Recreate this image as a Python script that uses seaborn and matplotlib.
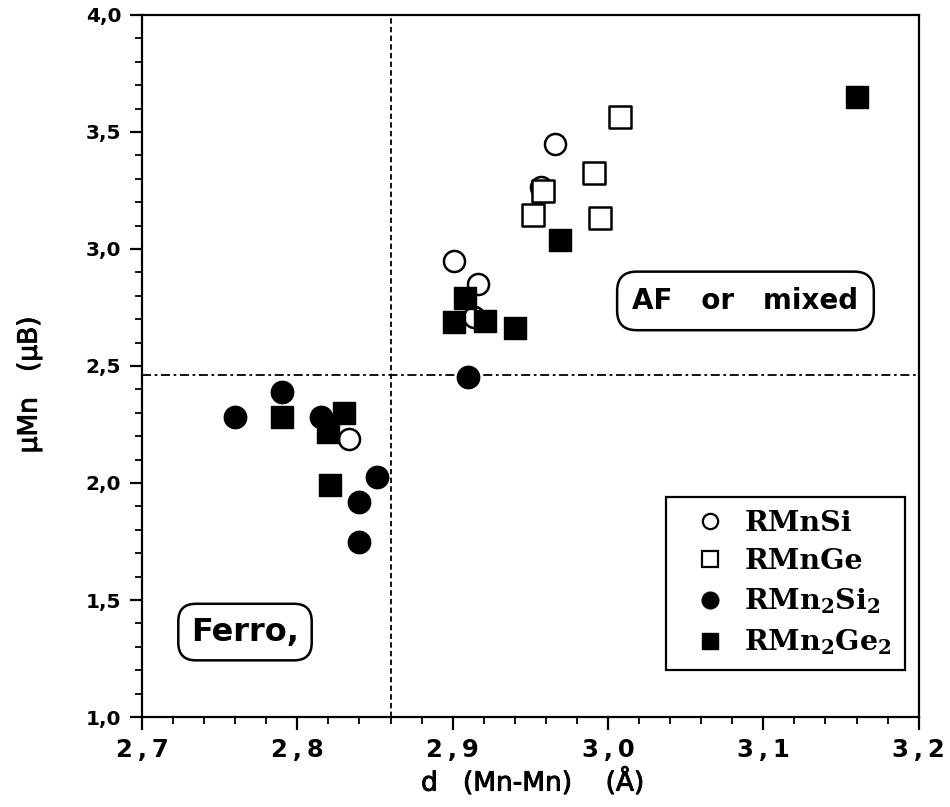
import matplotlib
matplotlib.use("Agg")
import matplotlib.pyplot as plt
import matplotlib.patheffects as pe
import seaborn as sns
import pandas as pd
from matplotlib.ticker import MultipleLocator, FixedLocator

# Mn moment versus Mn-Mn distance
series_names = ["RMnSi", "RMnGe", "RMn2Si2", "RMn2Ge2"]

rmnsi_d = [2.901, 2.916, 2.966, 2.957, 2.833, 2.914]
rmnsi_mu = [2.95, 2.85, 3.45, 3.265, 2.19, 2.71]

rmnge_d = [3.008, 2.991, 2.958, 2.952, 2.995]
rmnge_mu = [3.564, 3.325, 3.248, 3.145, 3.133]

rmn2si2_d = [2.760, 2.790, 2.815, 2.851, 2.840, 2.840, 2.910]
rmn2si2_mu = [2.282, 2.389, 2.282, 2.026, 1.919, 1.748, 2.453]

rmn2ge2_d = [2.790, 2.830, 2.820, 2.821, 3.160, 2.969, 2.908, 2.901, 2.921, 2.940]
rmn2ge2_mu = [2.282, 2.299, 2.218, 1.991, 3.65, 3.038, 2.79, 2.688, 2.692, 2.662]

x_ticks = [2.7, 2.8, 2.9, 3.0, 3.1, 3.2]
x_ticklabels = ["2\u2009,\u20097", "2\u2009,\u20098", "2\u2009,\u20099",
                "3\u2009,\u20090", "3\u2009,\u20091", "3\u2009,\u20092"]
y_ticks = [1.0, 1.5, 2.0, 2.5, 3.0, 3.5, 4.0]
y_ticklabels = ["1,0", "1,5", "2,0", "2,5", "3,0", "3,5", "4,0"]

d_boundary = 2.86
mu_boundary = 2.46

legend_labels = ["RMnSi", "RMnGe", r"RMn$_{2}$Si$_{2}$", r"RMn$_{2}$Ge$_{2}$"]

sns.set_style("white")
plt.rcParams["font.family"] = ["DejaVu Sans"]
plt.rcParams["text.color"] = "black"
plt.rcParams["axes.labelcolor"] = "black"
plt.rcParams["xtick.color"] = "black"
plt.rcParams["ytick.color"] = "black"
plt.rcParams["mathtext.fontset"] = "custom"
plt.rcParams["mathtext.rm"] = "DejaVu Serif:bold"
plt.rcParams["mathtext.it"] = "DejaVu Serif:bold"
plt.rcParams["mathtext.bf"] = "DejaVu Serif:bold"

frames = []
for name, d, mu in [(series_names[0], rmnsi_d, rmnsi_mu),
                    (series_names[1], rmnge_d, rmnge_mu),
                    (series_names[2], rmn2si2_d, rmn2si2_mu),
                    (series_names[3], rmn2ge2_d, rmn2ge2_mu)]:
    frames.append(pd.DataFrame({"d": d, "mu": mu, "series": name}))
df = pd.concat(frames, ignore_index=True)

fig = plt.figure(figsize=(9.5, 8.07), dpi=100)
ax = fig.add_axes([0.1495, 0.1115, 0.8175, 0.8700])

styles = {
    "RMnSi": dict(marker="o", s=230, facecolor="white", edgecolor="black", linewidth=1.8),
    "RMnGe": dict(marker="s", s=230, facecolor="white", edgecolor="black", linewidth=1.8),
    "RMn2Si2": dict(marker="o", s=260, facecolor="black", edgecolor="black", linewidth=1.0),
    "RMn2Ge2": dict(marker="s", s=250, facecolor="black", edgecolor="black", linewidth=1.0),
}
draw_order = ["RMn2Si2", "RMnSi", "RMn2Ge2", "RMnGe"]
for z, name in enumerate(draw_order):
    sub = df[df["series"] == name]
    st = styles[name]
    sns.scatterplot(data=sub, x="d", y="mu", ax=ax, marker=st["marker"], s=st["s"],
                    facecolor=st["facecolor"], edgecolor=st["edgecolor"],
                    linewidth=st["linewidth"], zorder=3 + z, legend=False)

# boundary lines
ax.axhline(mu_boundary, color="black", lw=1.3, linestyle=(0, (5, 2, 1.5, 2)), zorder=2)
ax.axvline(d_boundary, color="black", lw=1.3, linestyle=(0, (3, 1.8)), zorder=2)

ax.set_xlim(2.7, 3.2)
ax.set_ylim(1.0, 4.0)
ax.xaxis.set_major_locator(FixedLocator(x_ticks))
ax.set_xticklabels(x_ticklabels)
ax.xaxis.set_minor_locator(MultipleLocator(0.02))
ax.yaxis.set_major_locator(FixedLocator(y_ticks))
ax.set_yticklabels(y_ticklabels)
ax.yaxis.set_minor_locator(MultipleLocator(0.1))
ax.tick_params(axis="both", which="major", direction="out", length=9, width=1.6)
ax.tick_params(axis="both", which="minor", direction="out", length=5, width=1.3)
ax.tick_params(axis="x", which="major", labelsize=17.5, pad=6)
ax.tick_params(axis="y", which="major", labelsize=14.5, pad=6)
ax.tick_params(axis="x", which="both", bottom=True, top=False)
ax.tick_params(axis="y", which="both", left=True, right=False)
for lab in ax.get_xticklabels() + ax.get_yticklabels():
    lab.set_fontweight("bold")
for sp in ax.spines.values():
    sp.set_linewidth(1.6)
    sp.set_color("black")

label_fx = [pe.withStroke(linewidth=0.7, foreground="black")]
ax.set_xlabel("d   (Mn-Mn)    (Å)", fontsize=19, path_effects=label_fx)
ax.set_ylabel("μMn   (μB)", fontsize=19, path_effects=label_fx)
ax.xaxis.set_label_coords(0.503, -0.072)
ax.yaxis.set_label_coords(-0.128, 0.473)

# region labels
ax.text(2.7663, 1.363, "Ferro,", fontsize=23, fontweight="bold", ha="center",
        va="center", zorder=6,
        bbox=dict(boxstyle="round,pad=0.4,rounding_size=0.55", facecolor="white",
                  edgecolor="black", linewidth=1.8))
ax.text(3.0885, 2.778, "AF   or   mixed", fontsize=20, fontweight="bold",
        ha="center", va="center", zorder=6,
        bbox=dict(boxstyle="round,pad=0.55,rounding_size=0.7", facecolor="white",
                  edgecolor="black", linewidth=1.8))

# legend
handles = [
    plt.Line2D([], [], marker="o", ls="", ms=11, mfc="white", mec="black", mew=1.6),
    plt.Line2D([], [], marker="s", ls="", ms=11, mfc="white", mec="black", mew=1.6),
    plt.Line2D([], [], marker="o", ls="", ms=12, mfc="black", mec="black"),
    plt.Line2D([], [], marker="s", ls="", ms=12, mfc="black", mec="black"),
]
leg = ax.legend(handles, legend_labels, loc="lower right", bbox_to_anchor=(0.982, 0.067),
                frameon=True, fancybox=False, edgecolor="black", framealpha=1.0,
                handlelength=2.2, handletextpad=0.1, labelspacing=0.4,
                borderpad=0.45, borderaxespad=0.0,
                prop={"family": "DejaVu Serif", "weight": "bold", "size": 20.5})
leg.get_frame().set_linewidth(1.6)
leg.set_zorder(7)

fig.savefig("out.png", dpi=100)
